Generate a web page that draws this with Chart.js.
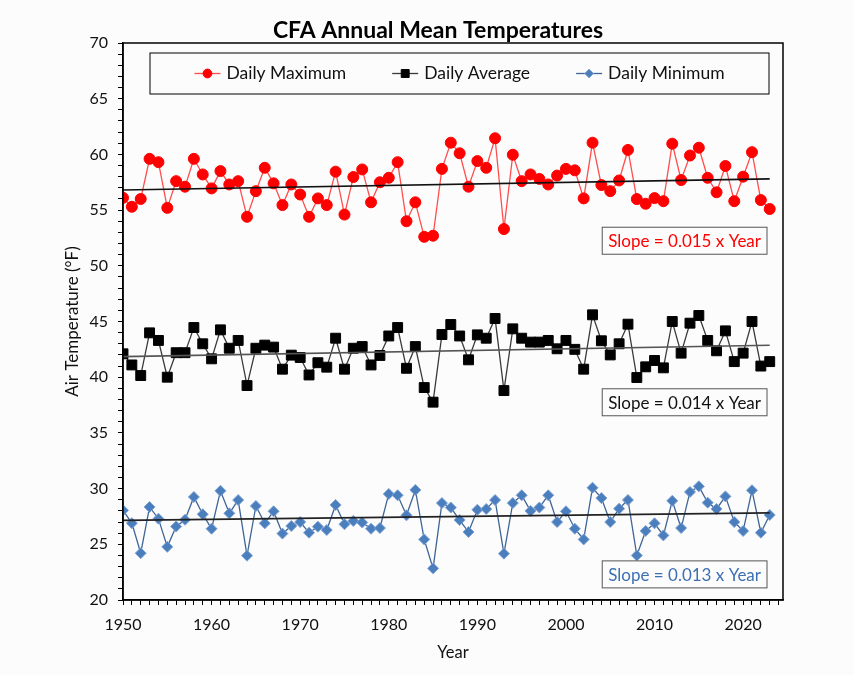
<!DOCTYPE html>
<html>
<head>
<meta charset="utf-8">
<script src="https://cdn.jsdelivr.net/npm/chart.js"></script>
<style>
  html, body { margin: 0; padding: 0; background: #fcfcfc; }
  #wrap { width: 854px; height: 675px; }
</style>
</head>
<body>
<div id="wrap"><canvas id="chart" width="854" height="675"></canvas></div>
<script>
const years = [1950, 1951, 1952, 1953, 1954, 1955, 1956, 1957, 1958, 1959,
  1960, 1961, 1962, 1963, 1964, 1965, 1966, 1967, 1968, 1969,
  1970, 1971, 1972, 1973, 1974, 1975, 1976, 1977, 1978, 1979,
  1980, 1981, 1982, 1983, 1984, 1985, 1986, 1987, 1988, 1989,
  1990, 1991, 1992, 1993, 1994, 1995, 1996, 1997, 1998, 1999,
  2000, 2001, 2002, 2003, 2004, 2005, 2006, 2007, 2008, 2009,
  2010, 2011, 2012, 2013, 2014, 2015, 2016, 2017, 2018, 2019,
  2020, 2021, 2022, 2023];

const dailyMax = [56.1, 55.3, 56.0, 59.6, 59.3, 55.2, 57.6, 57.1, 59.6, 58.2,
  56.95, 58.5, 57.3, 57.6, 54.4, 56.7, 58.8, 57.4, 55.45, 57.3,
  56.4, 54.4, 56.05, 55.45, 58.45, 54.6, 57.97, 58.65, 55.7, 57.5,
  57.9, 59.3, 54.0, 55.7, 52.6, 52.7, 58.7, 61.05, 60.1, 57.1,
  59.4, 58.8, 61.45, 53.3, 59.97, 57.6, 58.2, 57.8, 57.3, 58.1,
  58.7, 58.57, 56.05, 61.05, 57.25, 56.7, 57.66, 60.4, 55.99, 55.57,
  56.08, 55.8, 60.96, 57.7, 59.9, 60.6, 57.9, 56.6, 58.96, 55.8,
  58.0, 60.2, 55.9, 55.1];

const dailyAvg = [42.1, 41.1, 40.15, 43.98, 43.3, 40.0, 42.2, 42.2, 44.46, 43.0,
  41.65, 44.25, 42.6, 43.3, 39.25, 42.6, 42.88, 42.7, 40.72, 41.98,
  41.77, 40.2, 41.3, 40.9, 43.5, 40.72, 42.6, 42.75, 41.1, 41.95,
  43.7, 44.46, 40.8, 42.75, 39.07, 37.76, 43.83, 44.73, 43.7, 41.56,
  43.8, 43.5, 45.27, 38.8, 44.34, 43.5, 43.15, 43.15, 43.3, 42.55,
  43.3, 42.5, 40.72, 45.6, 43.27, 42.0, 43.0, 44.76, 39.97, 40.93,
  41.5, 40.84, 45.0, 42.16, 44.85, 45.54, 43.3, 42.37, 44.16, 41.4,
  42.16, 45.0, 41.0, 41.4];

const dailyMin = [28.05, 26.9, 24.2, 28.35, 27.3, 24.77, 26.6, 27.2, 29.25, 27.7,
  26.4, 29.8, 27.78, 28.97, 23.98, 28.44, 26.88, 27.96, 25.96, 26.64,
  27.0, 26.04, 26.58, 26.28, 28.53, 26.8, 27.1, 26.96, 26.4, 26.46,
  29.52, 29.4, 27.6, 29.88, 25.44, 22.84, 28.7, 28.3, 27.18, 26.1,
  28.1, 28.17, 28.97, 24.16, 28.7, 29.4, 28.0, 28.3, 29.4, 27.0,
  27.96, 26.4, 25.44, 30.08, 29.15, 27.0, 28.2, 28.98, 24.0, 26.2,
  26.88, 25.8, 28.9, 26.46, 29.7, 30.2, 28.74, 28.17, 29.3, 27.0,
  26.2, 29.85, 26.04, 27.63];

// trendline end points
const trendYears = [1950, 2023];
const trendMax = [56.8, 57.8];
const trendAvg = [41.85, 42.87];
const trendMin = [27.15, 27.82];

const slopeLabels = ['Slope = 0.015 x Year', 'Slope = 0.014 x Year', 'Slope = 0.013 x Year'];
const slopeAnchors = [52.25, 37.75, 22.3]; // y value where each box sits

const FONT = 'Lato, "Open Sans", sans-serif';

const pts = (xs, ys) => xs.map((x, i) => ({ x, y: ys[i] }));

const series = (label, values, color, lineColor, style, radius, border) => ({
  label,
  data: pts(years, values),
  showLine: true,
  borderColor: lineColor,
  borderWidth: 1.3,
  backgroundColor: color,
  pointBackgroundColor: color,
  pointBorderColor: border,
  pointBorderWidth: 1,
  pointStyle: style,
  pointRadius: radius,
  order: 1,
});

const trend = (values, color) => ({
  label: 'trend',
  data: pts(trendYears, values),
  showLine: true,
  borderColor: color,
  borderWidth: 1.6,
  pointRadius: 0,
  order: 0,
});

const datasets = [
  series('Daily Maximum', dailyMax, '#ff0000', '#ff4d4d', 'circle', 5.5, '#ff0000'),
  series('Daily Average', dailyAvg, '#000000', '#3a3a3a', 'rect', 7, '#000000'),
  series('Daily Minimum', dailyMin, '#4a7ebd', '#3f6596', 'rectRot', 5.5, '#7fa3d3'),
  trend(trendMax, '#111111'),
  trend(trendAvg, '#555555'),
  trend(trendMin, '#222222'),
];

const slopeColors = ['#ff0000', '#111111', '#3d6fb3'];

const extras = {
  id: 'extras',
  afterDraw(chart) {
    const { ctx, chartArea: a, scales } = chart;
    ctx.save();
    // frame
    ctx.strokeStyle = '#000';
    ctx.lineWidth = 1.5;
    ctx.strokeRect(a.left, a.top, a.right - a.left, a.bottom - a.top);

    // title
    ctx.fillStyle = '#000';
    ctx.font = 'bold 23px ' + FONT;
    ctx.textAlign = 'center';
    ctx.textBaseline = 'middle';
    ctx.fillText('CFA Annual Mean Temperatures', 438, 31);

    // legend box
    const lx = a.left + 27, ly = a.top + 10, lw = a.right - 14 - lx, lh = 41;
    ctx.fillStyle = '#fcfcfc';
    ctx.fillRect(lx, ly, lw, lh);
    ctx.strokeStyle = '#000';
    ctx.lineWidth = 1;
    ctx.strokeRect(lx, ly, lw, lh);
    ctx.font = '17.5px ' + FONT;
    const items = chart.data.datasets.filter(d => d.label !== 'trend');
    const lineLen = 26, gap1 = 6, gap2 = 46;
    const widths = items.map(d => lineLen + gap1 + ctx.measureText(d.label).width);
    const total = widths.reduce((s, w) => s + w, 0) + gap2 * (items.length - 1);
    let x = lx + lw / 2 - total / 2;
    const cy = ly + lh / 2;
    items.forEach((d, i) => {
      ctx.strokeStyle = d.borderColor;
      ctx.lineWidth = 1.3;
      ctx.beginPath();
      ctx.moveTo(x, cy);
      ctx.lineTo(x + lineLen, cy);
      ctx.stroke();
      ctx.fillStyle = d.pointBackgroundColor;
      ctx.strokeStyle = d.pointBorderColor;
      ctx.lineWidth = 1;
      Chart.helpers.drawPoint(ctx, { pointStyle: d.pointStyle, radius: d.pointRadius * 0.8, borderWidth: 1, rotation: 0 }, x + lineLen / 2, cy);
      ctx.fillStyle = '#111';
      ctx.textAlign = 'left';
      ctx.fillText(d.label, x + lineLen + gap1, cy);
      x += widths[i] + gap2;
    });

    // slope boxes
    ctx.font = '17px ' + FONT;
    slopeLabels.forEach((t, i) => {
      const w = ctx.measureText(t).width + 12;
      const h = 27;
      const right = a.right - 16;
      const yc = scales.y.getPixelForValue(slopeAnchors[i]);
      ctx.fillStyle = '#fcfcfc';
      ctx.fillRect(right - w, yc - h / 2, w, h);
      ctx.strokeStyle = '#555';
      ctx.lineWidth = 1;
      ctx.strokeRect(right - w, yc - h / 2, w, h);
      ctx.fillStyle = slopeColors[i];
      ctx.textAlign = 'center';
      ctx.fillText(t, right - w / 2, yc + 1);
    });
    ctx.restore();
  },
};

new Chart(document.getElementById('chart'), {
  type: 'scatter',
  data: { datasets },
  options: {
    responsive: false,
    animation: false,
    layout: { padding: { left: 0, top: 43, right: 71, bottom: 0 } },
    plugins: { legend: { display: false }, tooltip: { enabled: false } },
    scales: {
      x: {
        type: 'linear',
        min: 1950,
        max: 2024.5,
        afterFit: (s) => { s.height = 75; },
        border: { color: '#000', width: 1.5 },
        grid: { drawOnChartArea: false, color: '#000', tickLength: 5, lineWidth: 1 },
        ticks: {
          stepSize: 1,
          autoSkip: false,
          maxRotation: 0,
          includeBounds: false,
          padding: 10,
          color: '#111',
          font: { family: FONT, size: 16 },
          callback: (v) => (v % 10 === 0 ? v : ''),
        },
        title: { display: true, text: 'Year', color: '#111', font: { family: FONT, size: 16.5 }, padding: { top: 0, bottom: 12 } },
      },
      y: {
        min: 20,
        max: 70,
        afterFit: (s) => { s.width = 123; },
        border: { color: '#000', width: 1.5 },
        grid: { drawOnChartArea: false, color: '#000', tickLength: 5, lineWidth: 1 },
        ticks: {
          stepSize: 1,
          autoSkip: false,
          padding: 10,
          color: '#111',
          font: { family: FONT, size: 16 },
          callback: (v) => (v % 5 === 0 ? v : ''),
        },
        title: { display: true, text: 'Air Temperature (°F)', color: '#111', font: { family: FONT, size: 17 }, padding: { top: 62, bottom: 0 } },
      },
    },
  },
  plugins: [extras],
});
</script>
</body>
</html>
